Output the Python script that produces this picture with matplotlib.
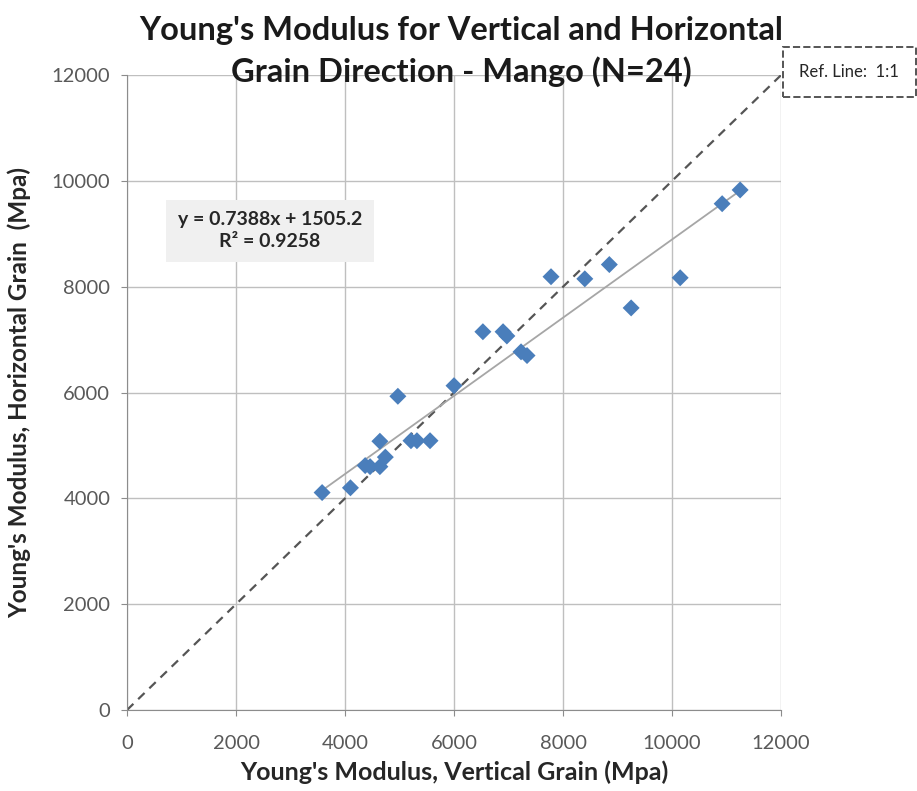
import matplotlib
matplotlib.use("Agg")
import matplotlib.pyplot as plt
import numpy as np

# Data (MPa)
vertical = [3580, 4100, 4370, 4460, 4640, 4640, 4740, 4970, 5210, 5320, 5560,
            6000, 6530, 6900, 6970, 7230, 7340, 7780, 8400, 8850, 9250, 10150,
            10920, 11250]
horizontal = [4110, 4200, 4620, 4600, 5080, 4600, 4780, 5930, 5090, 5090, 5090,
              6130, 7150, 7150, 7070, 6770, 6700, 8190, 8150, 8420, 7600, 8170,
              9570, 9830]
slope = 0.7388
intercept = 1505.2
r_squared = 0.9258

FONT = ["Lato", "DejaVu Sans"]
MARKER_COLOR = "#4a7ebb"
GRID_COLOR = "#bfbfbf"
TEXT_COLOR = "#595959"

plt.rcParams["font.family"] = FONT

fig = plt.figure(figsize=(9.17, 7.91), dpi=100)
ax = fig.add_axes([0.1385, 0.1024, 0.7132, 0.8026])

ax.set_xlim(0, 12000)
ax.set_ylim(0, 12000)
ax.set_xticks(range(0, 12001, 2000))
ax.set_yticks(range(0, 12001, 2000))
ax.grid(True, color=GRID_COLOR, linewidth=1.0)
ax.set_axisbelow(True)

for side in ["top", "right"]:
    ax.spines[side].set_visible(False)
for side in ["left", "bottom"]:
    ax.spines[side].set_color("#8c8c8c")
ax.tick_params(colors="#8c8c8c", labelcolor=TEXT_COLOR, labelsize=14.5,
               length=4)
ax.tick_params(axis="x", pad=14)
ax.tick_params(axis="y", pad=8)

# 1:1 reference line
ax.plot([0, 12000], [0, 12000], linestyle=(0, (4, 3)), color="#555555",
        linewidth=1.6, zorder=2)

# Linear trend line over the data range
xs = np.array([min(vertical), max(vertical)])
ax.plot(xs, slope * xs + intercept, color="#a6a6a6", linewidth=1.3, zorder=2)

ax.scatter(vertical, horizontal, marker="D", s=75, color=MARKER_COLOR,
           edgecolors="none", zorder=3)

ax.text(2624, 9060, f"y = {slope}x + {intercept}\nR² = {r_squared}",
        ha="center", va="center", fontsize=14, fontweight="bold",
        color="#262626", linespacing=1.35,
        bbox=dict(boxstyle="square,pad=0.6", facecolor="#f0f0f0",
                  edgecolor="none"))

ax.set_xlabel("Young's Modulus, Vertical Grain (Mpa)", fontsize=18,
              fontweight="bold", color="#262626", labelpad=6)
ax.set_ylabel("Young's Modulus, Horizontal Grain  (Mpa)", fontsize=17.5,
              fontweight="bold", color="#262626")
ax.yaxis.set_label_coords(-0.146, 0.5)

fig.text(0.503, 0.935, "Young's Modulus for Vertical and Horizontal\nGrain Direction - Mango (N=24)",
         ha="center", va="center", fontsize=23.5, fontweight="bold",
         color="#1a1a1a", linespacing=1.45)

fig.text(0.926, 0.909, "Ref. Line:  1:1", ha="center", va="center",
         fontsize=12, color="#262626",
         bbox=dict(boxstyle="square,pad=1.0", facecolor="white",
                   edgecolor="#555555", linestyle="--", linewidth=1.4))

fig.savefig("out.png", dpi=100, facecolor="white")
